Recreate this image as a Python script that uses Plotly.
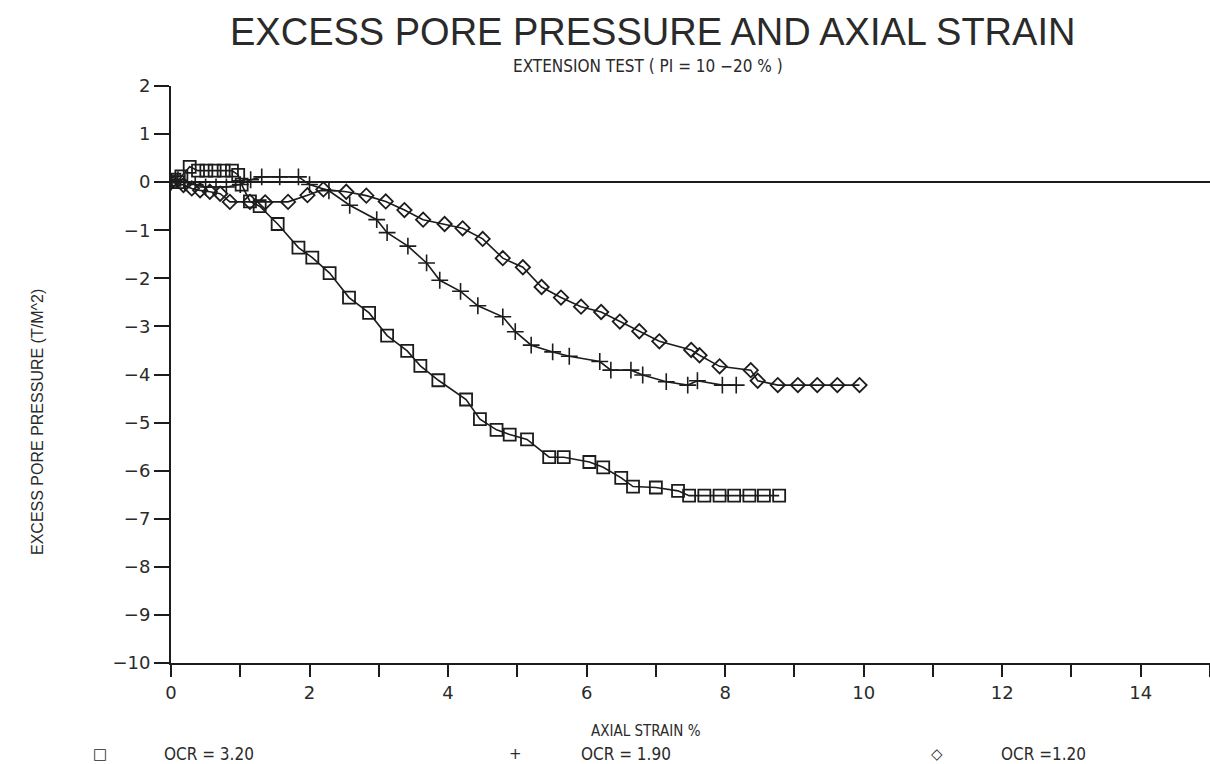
import plotly.graph_objects as go

# ---- data ----
sq_x = [0.0, 0.05, 0.1, 0.15, 0.27, 0.39, 0.51, 0.63, 0.76, 0.88, 0.97, 1.02, 1.14, 1.28, 1.54, 1.84, 2.04, 2.29, 2.57,
        2.86, 3.12, 3.41, 3.60, 3.86, 4.26, 4.46, 4.70, 4.89, 5.14, 5.46, 5.67, 6.04, 6.24, 6.50, 6.67, 7.00,
        7.32, 7.48, 7.70, 7.92, 8.13, 8.35, 8.56, 8.78]
sq_y = [0.0, 0.05, 0.0, 0.12, 0.32, 0.24, 0.24, 0.24, 0.24, 0.24, 0.15, -0.05, -0.40, -0.50, -0.87, -1.36, -1.57, -1.89,
        -2.40, -2.72, -3.19, -3.51, -3.82, -4.12, -4.52, -4.93, -5.15, -5.25, -5.35, -5.72, -5.72, -5.82,
        -5.93, -6.15, -6.33, -6.35, -6.42, -6.52, -6.52, -6.52, -6.52, -6.52, -6.52, -6.52]

pl_x = [0.0, 0.1, 0.2, 0.35, 0.5, 0.65, 0.8, 1.0, 1.15, 1.31, 1.57, 1.84, 2.0, 2.28, 2.58, 2.97, 3.12, 3.42,
        3.69, 3.88, 4.18, 4.43, 4.79, 4.97, 5.20, 5.51, 5.75, 6.19, 6.35, 6.64, 6.81, 7.15, 7.46, 7.60,
        7.96, 8.16]
pl_y = [0.0, 0.05, 0.0, -0.05, -0.1, -0.1, -0.1, -0.05, 0.05, 0.11, 0.11, 0.11, -0.05, -0.18, -0.48, -0.78,
        -1.05, -1.33, -1.68, -2.04, -2.27, -2.57, -2.80, -3.11, -3.39, -3.53, -3.62, -3.73, -3.91, -3.91,
        -4.01, -4.15, -4.22, -4.13, -4.22, -4.22]

di_x = [0.0, 0.18, 0.30, 0.42, 0.56, 0.71, 0.85, 1.14, 1.36, 1.69, 1.97, 2.20, 2.53, 2.82, 3.10, 3.37, 3.64,
        3.95, 4.21, 4.50, 4.79, 5.08, 5.35, 5.63, 5.92, 6.21, 6.48, 6.76, 7.05, 7.51, 7.63, 7.92, 8.37,
        8.47, 8.76, 9.05, 9.33, 9.62, 9.94]
di_y = [0.0, -0.06, -0.13, -0.17, -0.20, -0.24, -0.41, -0.41, -0.42, -0.41, -0.27, -0.15, -0.20, -0.28,
        -0.40, -0.58, -0.78, -0.87, -0.96, -1.18, -1.58, -1.77, -2.18, -2.40, -2.59, -2.70, -2.90, -3.10,
        -3.31, -3.49, -3.60, -3.83, -3.91, -4.13, -4.22, -4.22, -4.22, -4.22, -4.22]

series_names = ["OCR = 3.20", "OCR = 1.90", "OCR =1.20"]
legend_symbols = ["\u25a1", "+", "\u25c7"]

x_ticks = list(range(0, 16))
x_ticktext = [str(v) if v % 2 == 0 else "" for v in x_ticks]
y_ticks = list(range(-10, 3))
y_ticktext = [str(v).replace("-", "\u2212") for v in y_ticks]

INK = "#1c1c1c"
TXT = "#2a2a2a"
COND = "DejaVu Sans Condensed, DejaVu Sans, sans-serif"

fig = go.Figure()
fig.add_trace(go.Scatter(x=sq_x, y=sq_y, mode="lines+markers", name=series_names[0],
                         line=dict(color=INK, width=1.6),
                         marker=dict(symbol="square-open", size=12, color=INK, line=dict(width=1.8))))
fig.add_trace(go.Scatter(x=pl_x, y=pl_y, mode="lines+markers", name=series_names[1],
                         line=dict(color=INK, width=1.6),
                         marker=dict(symbol="cross-thin-open", size=12, color=INK, line=dict(width=1.6, color=INK))))
fig.add_trace(go.Scatter(x=di_x, y=di_y, mode="lines+markers", name=series_names[2],
                         line=dict(color=INK, width=1.6),
                         marker=dict(symbol="diamond-open", size=11, color=INK, line=dict(width=1.8))))

fig.update_layout(
    width=1210, height=764,
    margin=dict(l=171, r=0, t=86, b=101),
    paper_bgcolor="white", plot_bgcolor="white",
    showlegend=False,
    font=dict(family="Liberation Sans", color=TXT),
)
fig.update_xaxes(range=[0, 15], tickvals=x_ticks, ticktext=x_ticktext,
                 showgrid=False, zeroline=False, showline=True, linecolor=INK, linewidth=2,
                 ticks="outside", ticklen=12, tickwidth=2, tickcolor=INK,
                 tickfont=dict(family="DejaVu Sans", size=18, color=TXT))
fig.update_yaxes(range=[-10, 2], tickvals=y_ticks, ticktext=y_ticktext,
                 showgrid=False, zeroline=True, zerolinecolor=INK, zerolinewidth=2,
                 showline=True, linecolor=INK, linewidth=2,
                 ticks="outside", ticklen=15, tickwidth=2, tickcolor=INK,
                 tickfont=dict(family="DejaVu Sans", size=18, color=TXT))


def px2paper(px, py):
    return (px - 171) / 1039.0, (663 - py) / 577.0


def add_text(text, px, py, size, family="Liberation Sans", xanchor="center", angle=0):
    xp, yp = px2paper(px, py)
    fig.add_annotation(text=text, x=xp, y=yp, xref="paper", yref="paper", showarrow=False,
                       xanchor=xanchor, yanchor="middle", textangle=angle,
                       font=dict(family=family, size=size, color=TXT))


add_text("EXCESS PORE PRESSURE AND AXIAL STRAIN", 652, 32, 38)
add_text("EXTENSION TEST ( PI = 10 \u221220 % )", 648, 66, 17, family=COND)
add_text("EXCESS PORE PRESSURE (T/M^2)", 37, 422, 16, angle=-90)
add_text("AXIAL STRAIN %", 646, 731, 15, family=COND)

legend_sym_px = [100, 515, 937]
legend_txt_px = [162, 579, 999]
for sym, name, sx, tx in zip(legend_symbols, series_names, legend_sym_px, legend_txt_px):
    add_text(sym, sx, 754, 15, family="DejaVu Sans")
    add_text(name, tx, 754, 17, family=COND, xanchor="left")

fig.write_html("out.html")
